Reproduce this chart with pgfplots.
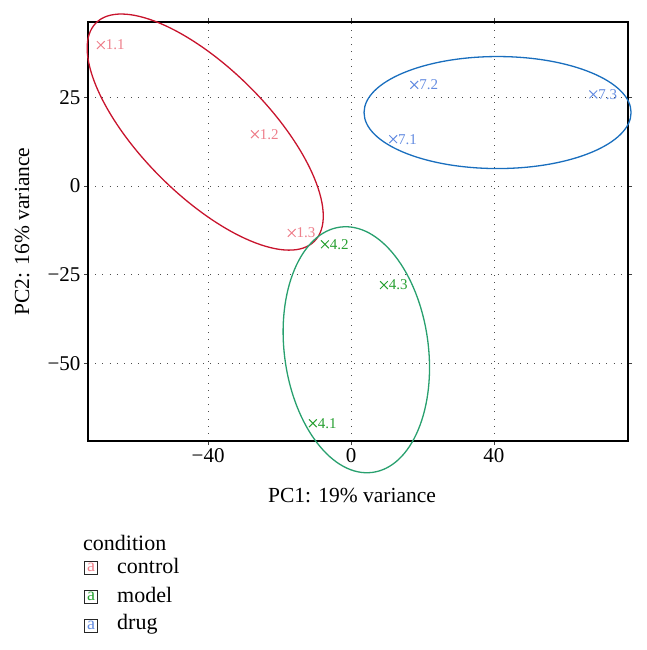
\documentclass[border=0pt]{standalone}
\usepackage{fontspec}
\setmainfont{Liberation Serif}
\usepackage{pgfplots}
\usepackage{pgfplotstable}
\pgfplotsset{compat=1.18}
\definecolor{ctrlpt}{RGB}{238,128,140}
\definecolor{modpt}{RGB}{40,160,50}
\definecolor{drugpt}{RGB}{100,140,225}
\definecolor{ctrlell}{RGB}{200,20,45}
\definecolor{modell}{RGB}{40,160,110}
\definecolor{drugell}{RGB}{25,110,190}
\pgfplotstableread{
x y label
-70.0 39.7 1.1
-26.9 14.6 1.2
-16.6 -13.2 1.3
}\control
\pgfplotstableread{
x y label
-10.7 -66.8 4.1
-7.3 -16.4 4.2
9.2 -27.9 4.3
}\model
\pgfplotstableread{
x y label
11.8 13.2 7.1
17.7 28.5 7.2
67.8 25.8 7.3
}\drug
\begin{document}
\begin{tikzpicture}[x=1pt,y=1pt]
\useasboundingbox (0pt,0pt) rectangle (646pt,-650pt);
\begin{axis}[
  at={(88pt,-441pt)}, anchor=south west,
  scale only axis, width=540pt, height=419pt,
  xmin=-73.6, xmax=77.5, ymin=-71.8, ymax=46.2,
  xtick={-40,0,40}, xticklabels={−40,0,40},
  ytick={-50,-25,0,25}, yticklabels={−50,−25,0,25},
  grid=major,
  major grid style={black!70, line width=0.9pt, dash pattern=on 0.9pt off 6.3pt},
  tick align=outside, major tick length=4pt,
  tick style={black!75, line width=0.8pt},
  axis line style={line width=1.3pt},
  clip=false,
  tick label style={font=\fontsize{21}{24}\selectfont},
  label style={font=\fontsize{21.5}{24}\selectfont},
  xlabel={PC1: 19\% variance},
  ylabel={PC2: 16\% variance},
  xlabel style={at={(axis description cs:0.489,-0.129)}, anchor=center},
  ylabel style={at={(axis description cs:-0.122,0.5)}, anchor=center, rotate=0},
  nodes near coords,
  point meta=explicit symbolic,
]
\draw[ctrlell, line width=1.3pt] (axis cs:-40.8,15.2) ellipse [x radius=154.4pt, y radius=63.4pt, rotate=-45];
\draw[modell, line width=1.3pt] (axis cs:1.48,-46.1) ellipse [x radius=123.7pt, y radius=72.0pt, rotate=-82.5];
\draw[drugell, line width=1.3pt] (axis cs:41.0,20.7) ellipse [x radius=133.5pt, y radius=56pt];
\addplot[only marks, mark=x, mark size=5.5pt, ctrlpt, line width=1pt,
  every node near coord/.style={anchor=west, xshift=3.5pt, inner sep=1pt, text=ctrlpt, font=\fontsize{15}{18}\selectfont}]
  table[x=x, y=y, meta=label] {\control};
\addplot[only marks, mark=x, mark size=5.5pt, modpt, line width=1pt,
  every node near coord/.style={anchor=west, xshift=3.5pt, inner sep=1pt, text=modpt, font=\fontsize{15}{18}\selectfont}]
  table[x=x, y=y, meta=label] {\model};
\addplot[only marks, mark=x, mark size=5.5pt, drugpt, line width=1pt,
  every node near coord/.style={anchor=west, xshift=3.5pt, inner sep=1pt, text=drugpt, font=\fontsize{15}{18}\selectfont}]
  table[x=x, y=y, meta=label] {\drug};
\end{axis}
\node[anchor=west, inner sep=0pt, font=\fontsize{22}{24}\selectfont] at (83pt,-543pt) {condition};
\node[draw=black!85, line width=1pt, minimum size=13pt, inner sep=0pt, text=ctrlpt, font=\fontsize{18}{18}\selectfont] at (91pt,-568pt) {\raisebox{1pt}{a}};
\node[draw=black!85, line width=1pt, minimum size=13pt, inner sep=0pt, text=modpt, font=\fontsize{18}{18}\selectfont] at (91pt,-597pt) {\raisebox{1pt}{a}};
\node[draw=black!85, line width=1pt, minimum size=13pt, inner sep=0pt, text=drugpt, font=\fontsize{18}{18}\selectfont] at (91pt,-626pt) {\raisebox{1pt}{a}};
\node[anchor=west, inner sep=0pt, font=\fontsize{22}{24}\selectfont] at (117pt,-566pt) {control};
\node[anchor=west, inner sep=0pt, font=\fontsize{22}{24}\selectfont] at (117pt,-595pt) {model};
\node[anchor=west, inner sep=0pt, font=\fontsize{22}{24}\selectfont] at (117pt,-624pt) {drug};
\end{tikzpicture}
\end{document}
